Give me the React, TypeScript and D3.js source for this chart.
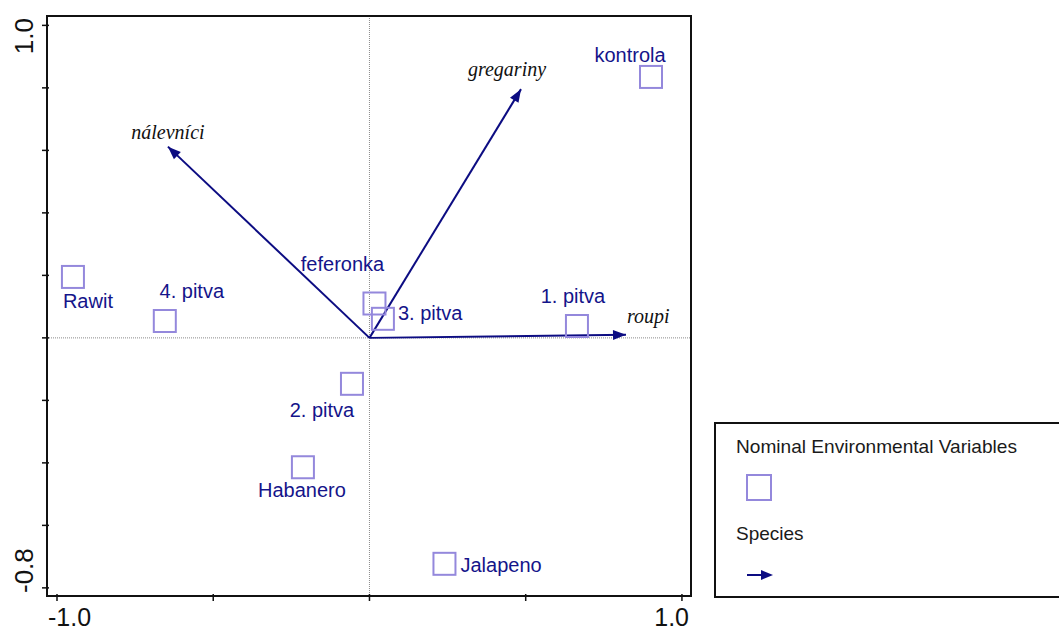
import React from 'react';
import * as d3 from 'd3';

// nominal environmental variables (squares)
const envNames = ['kontrola', 'Rawit', '4. pitva', 'feferonka', '3. pitva', '1. pitva', '2. pitva', 'Habanero', 'Jalapeno'];
const envX = [0.901, -0.949, -0.655, 0.016, 0.043, 0.664, -0.056, -0.213, 0.24];
const envY = [0.835, 0.195, 0.054, 0.11, 0.061, 0.038, -0.147, -0.414, -0.723];

// species (arrows)
const speciesNames = ['nálevníci', 'gregariny', 'roupi'];
const speciesX = [-0.645, 0.485, 0.821];
const speciesY = [0.612, 0.796, 0.01];

const xTicks = [-1, -0.5, 0, 0.5, 1];
const yTicks = [1, 0.8, 0.6, 0.4, 0.2, 0, -0.2, -0.4, -0.6, -0.8];

// label placement relative to the mark, in px
const envLabelPos = [
  { dx: -21, dy: -15, anchor: 'middle' },
  { dx: -10, dy: 31, anchor: 'start' },
  { dx: 27, dy: -23, anchor: 'middle' },
  { dx: -32, dy: -33, anchor: 'middle' },
  { dx: 15, dy: 1, anchor: 'start' },
  { dx: -4, dy: -23, anchor: 'middle' },
  { dx: -30, dy: 33, anchor: 'middle' },
  { dx: -1, dy: 30, anchor: 'middle' },
  { dx: 16, dy: 8, anchor: 'start' },
];
const speciesLabelPos = [
  { dx: 0, dy: -8, anchor: 'middle' },
  { dx: -14, dy: -13, anchor: 'middle' },
  { dx: 1, dy: -12, anchor: 'start' },
];

const NAVY = '#14148a';
const ARROW = '#0c0c82';
const SQUARE = '#9488dc';

const W = 1059;
const H = 632;
const left = 47, right = 691, top = 16, bottom = 596;

function headPoints(x0: number, y0: number, x1: number, y1: number, len = 13, half = 5) {
  const a = Math.atan2(y1 - y0, x1 - x0);
  const bx = x1 - len * Math.cos(a);
  const by = y1 - len * Math.sin(a);
  const px = -Math.sin(a) * half;
  const py = Math.cos(a) * half;
  return `${x1},${y1} ${bx + px},${by + py} ${bx - px},${by - py}`;
}

export default function App() {
  const x = d3.scaleLinear().domain([-1.032, 1.029]).range([left, right]);
  const y = d3.scaleLinear().domain([1.03, -0.826]).range([top, bottom]);
  const ox = x(0);
  const oy = y(0);
  const sq = 22;

  return (
    <svg width={W} height={H} style={{ position: 'absolute', left: 0, top: 0, display: 'block', background: '#fff' }}>
      {/* zero lines */}
      <line x1={ox} x2={ox} y1={top} y2={bottom} stroke="#8a8a8a" strokeWidth={1} strokeDasharray="1 1" />
      <line x1={left} x2={right} y1={oy} y2={oy} stroke="#8a8a8a" strokeWidth={1} strokeDasharray="1 1" />

      {/* species arrows */}
      {speciesNames.map((n, i) => {
        const tx = x(speciesX[i]);
        const ty = y(speciesY[i]);
        const p = speciesLabelPos[i];
        return (
          <g key={n}>
            <line x1={ox} y1={oy} x2={tx} y2={ty} stroke={ARROW} strokeWidth={2} />
            <polygon points={headPoints(ox, oy, tx, ty)} fill={ARROW} />
            <text x={tx + p.dx} y={ty + p.dy} textAnchor={p.anchor as any}
              fontFamily="'Liberation Serif', 'Times New Roman', serif" fontStyle="italic" fontSize={20} fill="#111">
              {n}
            </text>
          </g>
        );
      })}

      {/* environmental variables */}
      {envNames.map((n, i) => {
        const cx = x(envX[i]);
        const cy = y(envY[i]);
        const p = envLabelPos[i];
        return (
          <g key={n}>
            <rect x={cx - sq / 2} y={cy - sq / 2} width={sq} height={sq} fill="none" stroke={SQUARE} strokeWidth={2} />
            <text x={cx + p.dx} y={cy + p.dy} textAnchor={p.anchor as any}
              fontFamily="'Liberation Sans', Arial, sans-serif" fontSize={20} fill={NAVY}>
              {n}
            </text>
          </g>
        );
      })}

      {/* frame */}
      <rect x={left} y={top} width={right - left} height={bottom - top} fill="none" stroke="#111" strokeWidth={2} />

      {/* ticks */}
      {xTicks.map(t => (
        <line key={'xt' + t} x1={x(t)} x2={x(t)} y1={bottom - 2} y2={bottom + 5} stroke="#111" strokeWidth={1.5} />
      ))}
      {yTicks.map(t => (
        <line key={'yt' + t} x1={left - 5} x2={left + 2} y1={y(t)} y2={y(t)} stroke="#111" strokeWidth={1.5} />
      ))}

      {/* tick labels */}
      <text x={48} y={626} fontFamily="'Liberation Sans', Arial, sans-serif" fontSize={25} fill="#111">-1.0</text>
      <text x={689} y={626} textAnchor="end" fontFamily="'Liberation Sans', Arial, sans-serif" fontSize={25} fill="#111">1.0</text>
      <text transform={`translate(33,18) rotate(-90)`} textAnchor="end" fontFamily="'Liberation Sans', Arial, sans-serif" fontSize={26} fill="#111">1.0</text>
      <text transform={`translate(33,593) rotate(-90)`} textAnchor="start" fontFamily="'Liberation Sans', Arial, sans-serif" fontSize={26} fill="#111">-0.8</text>

      {/* legend */}
      <rect x={715} y={423} width={360} height={174} fill="#fff" stroke="#111" strokeWidth={2} />
      <text x={736} y={453} fontFamily="'Liberation Sans', Arial, sans-serif" fontSize={19} fill="#1a1a1a" textLength={281} lengthAdjust="spacingAndGlyphs">
        Nominal Environmental Variables
      </text>
      <rect x={747} y={475} width={24} height={25} fill="none" stroke={SQUARE} strokeWidth={2} />
      <text x={736} y={540} fontFamily="'Liberation Sans', Arial, sans-serif" fontSize={19} fill="#1a1a1a">Species</text>
      <line x1={747} y1={575} x2={766} y2={575} stroke={ARROW} strokeWidth={2} />
      <polygon points={headPoints(747, 575, 773, 575, 12, 5)} fill={ARROW} />
    </svg>
  );
}
